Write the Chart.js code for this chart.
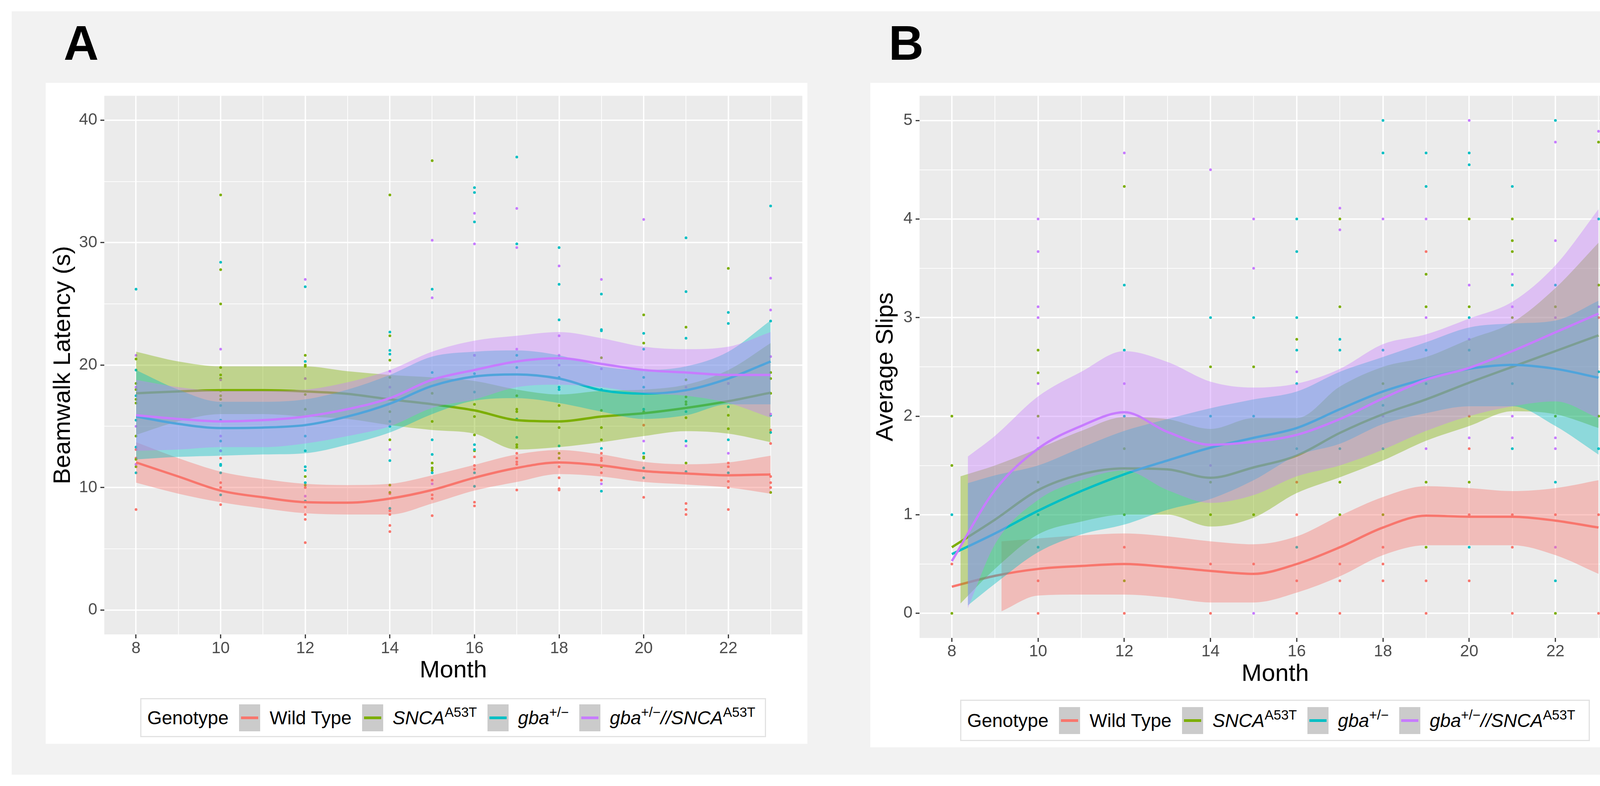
<!DOCTYPE html>
<html>
<head>
<meta charset="utf-8">
<script src="https://cdn.jsdelivr.net/npm/chart.js@4.4.1/dist/chart.umd.min.js"></script>
<style>
body{margin:0;width:4324px;height:2012px;background:#fff;position:relative;overflow:hidden;font-family:'Liberation Sans',Arial,sans-serif}
.bg{position:absolute;left:30px;top:29px;width:4253px;height:1954px;background:#F2F2F2}
.panel{position:absolute;background:#fff}
.panel canvas{position:absolute;left:0;top:0}
.tag{position:absolute;font-family:'Liberation Sans Narrow','Liberation Sans',Arial,sans-serif;font-weight:bold;font-size:124px;line-height:1;color:#000}
.legend{position:absolute;box-sizing:border-box;border:3px solid #E2E2E2;background:#fff;display:flex;align-items:center;padding-left:15px;font-size:48px;color:#000;white-space:nowrap}
.legend .key{width:54px;height:69px;background:#CBCBCB;position:relative;margin:0 24px 0 27px;flex:none}
.legend .key i{position:absolute;left:5px;right:5px;top:31px;height:7px}
.legend em{font-style:italic}
.legend sup{font-size:0.72em;vertical-align:0.55em;line-height:0}
</style>
</head>
<body>
<div class="bg"></div>
<div class="tag" style="left:163px;top:48px">A</div>
<div class="tag" style="left:2275px;top:48px">B</div>
<div class="panel" style="left:117px;top:212px;width:1950px;height:1692px"><canvas id="chartA" width="1950" height="1692"></canvas></div>
<div class="panel" style="left:2228px;top:212px;width:1961px;height:1701px"><canvas id="chartB" width="1961" height="1701"></canvas></div>

<div class="legend" style="left:359px;top:1787px;width:1602px;height:100px">
  <span>Genotype</span>
  <span class="key"><i style="background:#F8766D"></i></span><span>Wild Type</span>
  <span class="key"><i style="background:#7CAE00"></i></span><span><em>SNCA</em><sup>A53T</sup></span>
  <span class="key"><i style="background:#00BFC4"></i></span><span><em>gba</em><sup>+/−</sup></span>
  <span class="key"><i style="background:#C77CFF"></i></span><span><em>gba</em><sup>+/−</sup><em>//SNCA</em><sup>A53T</sup></span>
</div>
<div class="legend" style="left:2458px;top:1791px;width:1612px;height:106px">
  <span>Genotype</span>
  <span class="key"><i style="background:#F8766D"></i></span><span>Wild Type</span>
  <span class="key"><i style="background:#7CAE00"></i></span><span><em>SNCA</em><sup>A53T</sup></span>
  <span class="key"><i style="background:#00BFC4"></i></span><span><em>gba</em><sup>+/−</sup></span>
  <span class="key"><i style="background:#C77CFF"></i></span><span><em>gba</em><sup>+/−</sup><em>//SNCA</em><sup>A53T</sup></span>
</div>

<script>
// axes / ticks
const monthTicks = [8,9,10,11,12,13,14,15,16,17,18,19,20,21,22,23];
const latencyTicks = [0,5,10,15,20,25,30,35,40];
const slipTicks = [0,0.5,1,1.5,2,2.5,3,3.5,4,4.5,5];
const months = [8,9,10,11,12,13,14,15,16,17,18,19,20,21,22,23];
const groupColors = ['#F8766D','#7CAE00','#00BFC4','#C77CFF'];

// ---- panel A : beamwalk latency ----
const latWtPts = [[8,13.1],[8,12.4],[8,11.9],[8,8.2],[10,12.4],[10,10.4],[10,10.0],[10,8.6],[12,10.0],[12,8.4],[12,7.8],[12,7.4],[12,5.5],[14,9.5],[14,8.1],[14,7.8],[14,6.9],[14,6.4],[15,10.6],[15,9.4],[15,9.1],[15,7.7],[16,12.5],[16,11.8],[16,11.5],[16,8.8],[16,8.5],[17,12.8],[17,12.4],[17,12.1],[17,11.9],[17,9.8],[18,11.7],[18,10.8],[18,9.9],[18,9.8],[19,12.8],[19,12.4],[19,12.2],[19,11.2],[19,10.6],[20,15.1],[20,9.2],[21,8.7],[21,8.2],[21,7.8],[22,12.0],[22,11.7],[22,10.5],[22,10.0],[22,8.2],[23,14.7],[23,13.6],[23,10.9],[23,10.4],[23,10.0]];
const latSncaPts = [[8,20.5],[8,18.5],[8,18.0],[8,17.2],[8,16.9],[8,14.2],[8,12.3],[8,11.7],[10,33.9],[10,27.8],[10,25.0],[10,19.8],[10,19.2],[10,18.9],[10,17.9],[10,17.5],[10,17.2],[12,20.8],[12,20.0],[12,19.9],[12,17.6],[12,16.4],[12,10.9],[12,10.2],[14,33.9],[14,22.4],[14,20.4],[14,19.0],[14,16.2],[14,13.9],[14,10.2],[14,9.6],[15,36.7],[15,17.7],[15,15.4],[15,12.0],[15,11.6],[15,11.4],[16,20.8],[16,16.8],[16,15.8],[16,14.3],[16,13.0],[17,17.5],[17,16.4],[17,16.2],[17,13.5],[17,13.3],[18,16.7],[18,14.9],[18,12.8],[18,12.4],[19,20.6],[19,16.3],[19,14.9],[19,13.9],[19,11.7],[20,24.1],[20,21.8],[20,16.2],[20,12.5],[20,12.4],[21,23.1],[21,18.8],[21,17.4],[21,17.0],[21,16.8],[21,15.7],[21,12.0],[22,27.9],[22,18.5],[22,15.9],[22,14.8],[23,19.4],[23,18.9],[23,17.7],[23,9.6]];
const latGbaPts = [[8,26.2],[8,19.6],[8,17.5],[8,15.5],[8,13.3],[8,11.2],[10,28.4],[10,16.7],[10,15.5],[10,13.8],[10,13.0],[10,11.9],[10,11.8],[10,11.2],[10,9.4],[12,26.4],[12,20.3],[12,14.2],[12,13.0],[12,11.7],[12,11.4],[12,10.4],[12,8.9],[14,22.7],[14,21.2],[14,20.9],[14,15.4],[14,15.0],[14,12.2],[14,8.3],[15,26.2],[15,19.4],[15,13.9],[15,12.7],[15,11.2],[16,34.5],[16,34.1],[16,31.7],[16,19.3],[16,17.8],[16,13.5],[16,13.1],[16,11.2],[16,10.1],[17,37.0],[17,29.9],[17,20.8],[17,19.8],[17,15.6],[17,14.1],[18,29.6],[18,26.6],[18,23.7],[18,19.0],[18,18.2],[18,18.0],[18,13.4],[19,25.8],[19,22.9],[19,22.8],[19,18.0],[19,13.2],[19,9.7],[20,22.6],[20,21.3],[20,19.0],[20,18.2],[20,16.4],[20,12.8],[20,11.6],[20,10.8],[21,30.4],[21,26.0],[21,22.2],[21,16.2],[21,13.8],[21,11.3],[22,24.3],[22,23.4],[22,16.6],[22,13.9],[22,11.2],[23,33.0],[23,23.6],[23,15.9],[23,14.5]];
const latDualPts = [[8,20.8],[8,18.2],[8,15.0],[8,11.9],[10,21.3],[10,18.8],[10,14.2],[10,13.0],[12,27.0],[12,18.9],[12,9.3],[14,19.5],[14,18.2],[14,13.1],[15,30.2],[15,25.5],[15,10.3],[16,32.4],[16,29.9],[16,20.8],[17,32.8],[17,29.6],[17,21.3],[18,28.1],[18,22.4],[18,20.8],[18,20.0],[19,27.0],[19,19.7],[19,10.3],[20,31.9],[20,13.8],[21,18.2],[21,13.4],[22,18.5],[22,12.8],[23,27.1],[23,24.5],[23,20.7],[23,16.0]];

const latWtFit  = [12.05,10.9,9.75,9.2,8.8,8.76,9.1,9.8,10.8,11.6,12.05,11.8,11.35,11.15,11.0,11.07];
const latWtHi   = [13.7,12.4,11.3,10.7,10.3,10.2,10.3,11.0,11.85,12.7,13.06,12.7,12.1,11.9,12.05,12.6];
const latWtLo   = [10.4,9.5,8.8,8.3,7.9,7.8,7.8,8.7,9.75,10.45,11.1,10.9,10.45,10.25,10.0,9.5];
const latSncaFit = [17.7,17.85,17.95,17.95,17.85,17.65,17.2,16.8,16.3,15.5,15.4,15.8,16.07,16.5,17.05,17.75];
const latSncaHi  = [21.1,20.3,19.9,19.9,19.9,19.5,19.2,19.0,18.7,18.0,17.6,17.9,18.0,18.4,19.6,21.8];
const latSncaLo  = [14.3,15.4,16.0,16.0,15.8,15.6,15.1,14.7,14.4,13.1,13.3,13.7,14.2,14.6,14.4,13.7];
const latGbaFit = [15.8,15.2,14.86,14.9,15.1,15.8,16.85,18.3,19.07,19.24,18.9,17.95,17.67,17.95,18.9,20.3];
const latGbaHi  = [19.6,18.0,17.0,17.0,17.2,18.0,19.2,20.7,21.1,21.2,20.8,19.9,19.6,19.9,21.1,23.65];
const latGbaLo  = [12.3,12.5,12.6,12.7,12.8,13.5,14.5,16.0,17.1,17.3,16.9,16.2,15.6,15.9,16.8,16.8];
const latDualFit = [15.9,15.6,15.4,15.5,15.8,16.4,17.3,18.8,19.6,20.3,20.56,20.1,19.6,19.4,19.2,19.2];
const latDualHi  = [18.8,18.2,17.9,17.9,18.0,18.6,19.6,21.1,22.0,22.4,22.7,22.2,21.5,21.3,21.5,22.7];
const latDualLo  = [13.0,13.1,13.3,13.3,13.6,14.2,15.0,16.5,17.2,18.2,18.4,18.2,17.7,17.5,16.9,15.7];

// ---- panel B : average slips ----
const slipWtPts = [[8,0.5],[10,0.33],[10,0],[12,0.67],[12,0],[14,0.5],[14,0],[15,0.5],[16,1.33],[16,1],[16,0.33],[16,0],[17,0.5],[17,0.33],[17,0],[18,0.67],[18,0.5],[18,0.33],[19,3.67],[19,0.33],[19,0],[20,2],[20,1.67],[20,1],[20,0.33],[21,1],[21,0.67],[21,0],[22,1],[23,3],[23,1],[23,0]];
const slipSncaPts = [[8,2],[8,1.5],[8,0],[10,2.67],[10,2.44],[10,2],[10,1.33],[12,4.33],[12,1.67],[12,1],[12,0.33],[14,2.5],[14,1.33],[14,1],[15,2.5],[15,1],[16,2.78],[17,4],[17,3.11],[17,1.33],[17,1],[18,2.33],[18,1],[19,3.44],[19,3.11],[19,1.33],[19,0.67],[20,4],[20,3.11],[20,1.33],[21,4],[21,3.78],[21,3.67],[21,3],[22,3.11],[22,2],[22,0],[23,4.78],[23,3.33],[23,2]];
const slipGbaPts = [[8,1],[10,1.67],[10,1],[10,0.67],[12,3.33],[12,2.67],[12,2],[14,3],[14,2],[15,3],[15,2],[16,4],[16,3.67],[16,3],[16,2.67],[16,2.33],[16,1.67],[16,0.67],[17,2.78],[17,2.67],[17,1.67],[18,5],[18,4.67],[18,2.67],[18,2.11],[18,1.67],[19,4.67],[19,4.33],[19,2.67],[19,2.33],[20,4.67],[20,4.55],[20,3],[20,2.67],[20,0.67],[21,4.33],[21,3.33],[21,2.33],[21,1.67],[22,5],[22,3.33],[22,1.33],[22,0.33],[23,4],[23,2.45],[23,1.67]];
const slipDualPts = [[10,4],[10,3.67],[10,3.11],[10,3],[10,2.33],[10,1.78],[12,4.67],[12,2.33],[14,4.5],[14,1.5],[15,4],[15,3.5],[15,0],[16,2.45],[17,4.11],[17,3.89],[18,4],[18,2],[19,4],[19,3],[19,1.67],[20,5],[20,3.33],[20,2.78],[20,1.78],[21,3.44],[21,3.11],[21,2],[21,1.78],[22,4.78],[22,3.78],[22,3],[22,1.78],[22,1.67],[22,0.67],[23,4.89],[23,3.11]];

const slipWtFit   = [0.27,0.38,0.45,0.48,0.5,0.47,0.43,0.40,0.5,0.67,0.87,0.99,0.98,0.98,0.94,0.87];
const slipSncaFit = [0.67,0.95,1.25,1.41,1.47,1.46,1.375,1.48,1.6,1.83,2.02,2.17,2.34,2.5,2.66,2.82];
const slipGbaFit  = [0.60,0.81,1.04,1.24,1.41,1.55,1.68,1.78,1.88,2.07,2.25,2.38,2.48,2.52,2.48,2.39];
const slipDualFit = [0.53,1.25,1.67,1.90,2.04,1.84,1.71,1.74,1.81,1.97,2.18,2.37,2.49,2.66,2.85,3.04];

const slipWtBandX   = [9.15,10,11,12,13,14,15,16,17,18,19,20,21,22,23];
const slipWtHi      = [0.73,0.76,0.79,0.81,0.78,0.73,0.70,0.78,0.99,1.18,1.29,1.27,1.24,1.27,1.35];
const slipWtLo      = [0.02,0.18,0.19,0.19,0.16,0.11,0.11,0.21,0.375,0.59,0.69,0.69,0.69,0.59,0.40];
const slipSncaBandX = [8.2,9,10,11,12,13,14,15,16,17,18,19,20,21,22,23];
const slipSncaHi    = [1.39,1.5,1.67,1.85,1.99,1.97,1.87,1.98,1.98,2.3,2.5,2.6,2.78,2.95,3.3,3.76];
const slipSncaLo    = [0.10,0.45,0.8,0.93,1.0,1.0,0.88,0.97,1.22,1.38,1.55,1.75,1.9,2.05,2.02,1.88];
const slipGbaBandX  = [8.37,9,10,11,12,13,14,15,16,17,18,19,20,21,22,23];
const slipGbaHi     = [1.32,1.4,1.5,1.68,1.85,1.97,2.08,2.17,2.25,2.45,2.6,2.75,2.9,2.94,2.97,3.17];
const slipGbaLo     = [0.08,0.3,0.62,0.8,0.9,1.05,1.16,1.35,1.6,1.72,1.92,2.03,2.1,2.1,1.9,1.61];
const slipDualBandX = [8.37,9,10,11,12,13,14,15,16,17,18,19,20,21,22,23];
const slipDualHi    = [1.59,1.80,2.2,2.45,2.66,2.55,2.35,2.29,2.33,2.48,2.73,2.83,2.99,3.16,3.53,4.1];
const slipDualLo    = [0.05,0.7,1.15,1.35,1.45,1.25,1.12,1.2,1.39,1.5,1.66,1.85,2.0,2.1,2.15,1.98];

Chart.defaults.font.family = "'Liberation Sans', Arial, sans-serif";

function rgba(hex, a) {
    const n = parseInt(hex.slice(1), 16);
    return `rgba(${n >> 16},${(n >> 8) & 255},${n & 255},${a})`;
}
function xy(xs, ys) {
    return xs.map((x, i) => ({x: x, y: ys[i]}));
}

// ggplot order: all points first, then ribbon + line for each group
function buildDatasets(pts, fits, bands) {
    let ds = [];
    pts.forEach((p, g) => {
        ds.push({
            data: p.map(v => ({x: v[0], y: v[1]})),
            showLine: false,
            pointRadius: 3.5,
            pointBorderWidth: 0,
            pointBackgroundColor: groupColors[g],
            borderColor: groupColors[g]
        });
    });
    fits.forEach((f, g) => {
        ds.push({
            data: xy(bands[g].x, bands[g].hi),
            borderWidth: 0,
            pointRadius: 0,
            cubicInterpolationMode: 'monotone',
            backgroundColor: rgba(groupColors[g], 0.4),
            fill: '+1'
        });
        ds.push({
            data: xy(bands[g].x, bands[g].lo),
            borderWidth: 0,
            pointRadius: 0,
            cubicInterpolationMode: 'monotone',
            fill: false
        });
        ds.push({
            data: xy(months, f),
            borderColor: groupColors[g],
            borderWidth: 6,
            pointRadius: 0,
            cubicInterpolationMode: 'monotone',
            fill: false
        });
    });
    ds.forEach((d, i) => { d.order = -i; });
    return ds;
}

const panelBg = {
    id: 'panelBg',
    beforeDraw(chart) {
        const a = chart.chartArea;
        chart.ctx.save();
        chart.ctx.fillStyle = '#EBEBEB';
        chart.ctx.fillRect(a.left, a.top, a.right - a.left, a.bottom - a.top);
        chart.ctx.restore();
    }
};

function makeChart(id, datasets, o) {
    return new Chart(document.getElementById(id), {
        type: 'line',
        data: {datasets: datasets},
        plugins: [panelBg],
        options: {
            responsive: false,
            animation: false,
            devicePixelRatio: 1,
            layout: {padding: o.padding},
            plugins: {
                legend: {display: false},
                tooltip: {enabled: false},
                filler: {drawTime: 'beforeDatasetDraw'}
            },
            scales: {
                x: {
                    type: 'linear',
                    min: 7.25,
                    max: 23.75,
                    afterBuildTicks: s => { s.ticks = monthTicks.map(v => ({value: v})); },
                    afterFit: s => { s.height = 130; },
                    ticks: {
                        autoSkip: false,
                        maxRotation: 0,
                        padding: o.xPad,
                        color: '#4D4D4D',
                        font: {size: 42},
                        callback: v => (v % 2 === 0 ? String(v) : '')
                    },
                    grid: {
                        color: '#FFFFFF',
                        lineWidth: c => (c.tick && c.tick.value % 2 === 0 ? 3.5 : 1.8),
                        tickColor: c => (c.tick && c.tick.value % 2 === 0 ? '#333333' : 'rgba(0,0,0,0)'),
                        tickLength: 10,
                        tickWidth: 3
                    },
                    border: {display: false},
                    title: {display: true, text: 'Month', color: '#000', font: {size: 62}, padding: {top: 0, bottom: 0}}
                },
                y: {
                    type: 'linear',
                    min: o.yMin,
                    max: o.yMax,
                    afterBuildTicks: s => { s.ticks = o.yTicks.map(v => ({value: v})); },
                    afterFit: s => { s.width = o.yWidth; },
                    ticks: {
                        autoSkip: false,
                        padding: 8,
                        color: '#4D4D4D',
                        font: {size: 42},
                        callback: v => (v % o.yMajor === 0 ? String(v) : '')
                    },
                    grid: {
                        color: '#FFFFFF',
                        lineWidth: c => (c.tick && c.tick.value % o.yMajor === 0 ? 3.5 : 1.8),
                        tickColor: c => (c.tick && c.tick.value % o.yMajor === 0 ? '#333333' : 'rgba(0,0,0,0)'),
                        tickLength: 10,
                        tickWidth: 3
                    },
                    border: {display: false},
                    title: {display: true, text: o.yTitle, color: '#000', font: {size: 62}, padding: {top: o.yTitlePad, bottom: 0}}
                }
            }
        }
    });
}

const latDatasets = buildDatasets(
    [latWtPts, latSncaPts, latGbaPts, latDualPts],
    [latWtFit, latSncaFit, latGbaFit, latDualFit],
    [
        {x: months, hi: latWtHi, lo: latWtLo},
        {x: months, hi: latSncaHi, lo: latSncaLo},
        {x: months, hi: latGbaHi, lo: latGbaLo},
        {x: months, hi: latDualHi, lo: latDualLo}
    ]
);
makeChart('chartA', latDatasets, {
    padding: {left: 0, top: 14, right: 13, bottom: 150},
    yMin: -2, yMax: 42, yTicks: latencyTicks, yMajor: 10,
    yWidth: 150, yTitle: 'Beamwalk Latency (s)', yTitlePad: 8, xPad: 1
});

const slipDatasets = buildDatasets(
    [slipWtPts, slipSncaPts, slipGbaPts, slipDualPts],
    [slipWtFit, slipSncaFit, slipGbaFit, slipDualFit],
    [
        {x: slipWtBandX, hi: slipWtHi, lo: slipWtLo},
        {x: slipSncaBandX, hi: slipSncaHi, lo: slipSncaLo},
        {x: slipGbaBandX, hi: slipGbaHi, lo: slipGbaLo},
        {x: slipDualBandX, hi: slipDualHi, lo: slipDualLo}
    ]
);
makeChart('chartB', slipDatasets, {
    padding: {left: 0, top: 12, right: 14, bottom: 150},
    yMin: -0.25, yMax: 5.25, yTicks: slipTicks, yMajor: 1,
    yWidth: 126, yTitle: 'Average Slips', yTitlePad: 3, xPad: 0
});
</script>
</body>
</html>
